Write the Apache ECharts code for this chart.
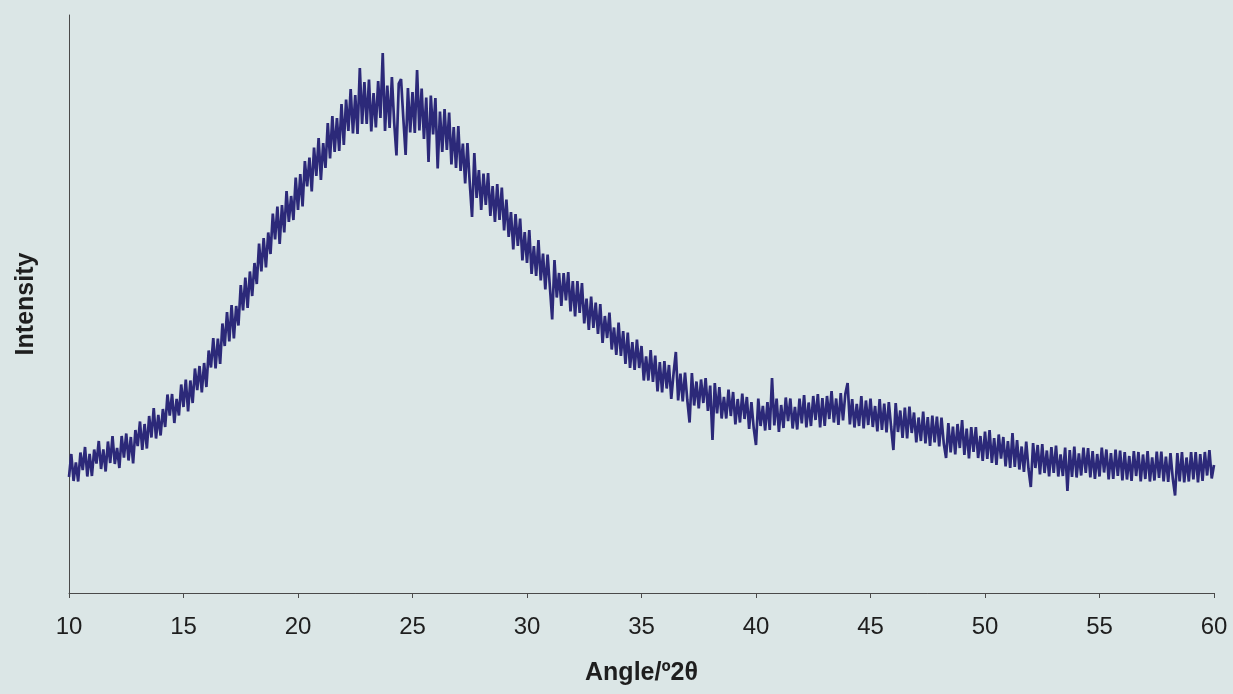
<!DOCTYPE html>
<html>
<head>
<meta charset="utf-8">
<title>XRD pattern</title>
<script src="https://cdn.jsdelivr.net/npm/echarts@6/dist/echarts.min.js"></script>
<style>
  html, body { margin: 0; padding: 0; background: #dbe6e6; }
  #chart { width: 1233px; height: 694px; }
</style>
</head>
<body>
<div id="chart"></div>
<script>
// Scan grid: 10–60 °2θ in 0.1° steps
const ANGLE_START = 10;
const ANGLE_STEP = 0.1;

// Measured intensity (arbitrary units), one value per step
const intensity = [
  232, 278, 224, 261, 223,  281, 246, 292, 233, 278,
  234, 287, 259, 304, 248,  287, 243, 303, 260, 314,
  258, 290, 250, 314, 271,  319, 265, 312, 259, 326,
  294, 343, 286, 338, 289,  354, 311, 370, 309, 356,
  315, 368, 332, 397, 355,  398, 340, 388, 355, 417,
  372, 427, 363, 425, 380,  449, 406, 454, 401, 460,
  412, 485, 451, 510, 449,  509, 458, 539, 494, 562,
  503, 576, 509, 574, 535,  616, 565, 631, 570, 643,
  594, 660, 618, 699, 643,  710, 651, 721, 678, 759,
  707, 773, 698, 776, 721,  804, 742, 794, 746, 831,
  766, 838, 773, 864, 813,  871, 803, 891, 834, 910,
  826, 900, 850, 940, 869,  954, 882, 950, 884, 978,
  896, 987, 924, 1008, 919,  996, 918, 1050, 938, 1022,
  938, 1027, 923, 1000, 931,  1024, 950, 1080, 924, 1015,
  930, 1032, 941, 875, 1019,  1028, 949, 876, 1010, 921,
  1002, 920, 1046, 925, 1009,  908, 991, 862, 995, 917,
  990, 849, 963, 882, 968,  886, 961, 857, 932, 850,
  934, 844, 899, 819, 900,  820, 752, 880, 790, 846,
  766, 839, 776, 840, 754,  814, 742, 818, 746, 811,
  725, 787, 712, 762, 687,  758, 694, 749, 665, 722,
  660, 726, 638, 694, 634,  706, 625, 679, 607, 677,
  612, 547, 666, 591, 640,  574, 640, 585, 642, 563,
  624, 553, 624, 560, 620,  539, 589, 526, 593, 530,
  581, 518, 578, 500, 554,  510, 561, 487, 531, 476,
  541, 474, 524, 458, 521,  450, 502, 446, 507, 450,
  494, 425, 473, 425, 486,  422, 475, 403, 462, 401,
  464, 409, 456, 388, 439,  482, 385, 439, 383, 441,
  386, 341, 440, 375, 423,  369, 427, 380, 430, 364,
  415, 306, 420, 359, 412,  349, 392, 349, 407, 354,
  402, 337, 388, 341, 399,  348, 392, 328, 382, 330,
  296, 389, 334, 374, 325,  382, 326, 430, 335, 389,
  322, 376, 330, 391, 344,  389, 329, 372, 327, 389,
  339, 396, 331, 381, 334,  394, 346, 398, 331, 390,
  334, 394, 348, 404, 341,  389, 336, 400, 345, 398,
  420, 337, 388, 331, 378,  334, 394, 329, 385, 336,
  389, 332, 374, 323, 388,  326, 379, 321, 382, 332,
  286, 380, 322, 365, 310,  371, 309, 373, 320, 361,
  301, 351, 304, 363, 299,  352, 294, 355, 301, 353,
  293, 351, 299, 270, 340,  281, 333, 277, 338, 290,
  346, 276, 329, 269, 332,  282, 332, 270, 314, 264,
  323, 268, 326, 260, 310,  256, 317, 269, 312, 253,
  304, 250, 320, 252, 306,  247, 293, 242, 303, 248,
  212, 300, 250, 296, 237,  298, 240, 285, 233, 292,
  240, 295, 233, 277, 234,  291, 204, 286, 232, 293,
  231, 279, 235, 291, 240,  290, 231, 284, 228, 278,
  233, 291, 241, 287, 227,  280, 228, 287, 234, 285,
  225, 282, 227, 274, 224,  284, 234, 282, 223, 277,
  228, 284, 223, 271, 225,  283, 230, 283, 223, 273,
  222, 280, 229, 195, 280,  223, 282, 221, 271, 223,
  282, 227, 282, 221, 278,  224, 282, 235, 286, 229,
  256
];

// Angle axis tick labels
const angleTicks = [10, 15, 20, 25, 30, 35, 40, 45, 50, 55, 60];

const points = intensity.map((v, i) => [
  +(ANGLE_START + i * ANGLE_STEP).toFixed(2), v
]);

const chart = echarts.init(document.getElementById('chart'), null, { renderer: 'canvas' });

chart.setOption({
  backgroundColor: '#dbe6e6',
  animation: false,
  grid: { left: 69, right: 19, top: 15, bottom: 101, containLabel: false },
  xAxis: {
    type: 'value',
    min: angleTicks[0],
    max: angleTicks[angleTicks.length - 1],
    interval: 5,
    name: 'Angle/º2θ',
    nameLocation: 'middle',
    nameGap: 68,
    nameTextStyle: {
      fontFamily: 'Liberation Sans, Arial, sans-serif',
      fontWeight: 'bold', fontSize: 25, color: '#1e1e1e'
    },
    axisLine: { show: true, onZero: false, lineStyle: { color: '#4a4a4a', width: 1 } },
    axisTick: { show: true, inside: false, length: 5, lineStyle: { color: '#4a4a4a' } },
    axisLabel: {
      margin: 22,
      fontFamily: 'Liberation Sans, Arial, sans-serif',
      fontSize: 24, color: '#1e1e1e'
    },
    splitLine: { show: false }
  },
  yAxis: {
    type: 'value',
    min: 0,
    max: 1156,
    name: 'Intensity',
    nameLocation: 'middle',
    nameGap: 30,
    nameTextStyle: {
      fontFamily: 'Liberation Sans, Arial, sans-serif',
      fontWeight: 'bold', fontSize: 25, color: '#1e1e1e'
    },
    axisLine: { show: true, lineStyle: { color: '#4a4a4a', width: 1 } },
    axisTick: { show: false },
    axisLabel: { show: false },
    splitLine: { show: false }
  },
  series: [{
    type: 'line',
    data: points,
    showSymbol: false,
    lineStyle: { color: '#2c2979', width: 2.7 },
    emphasis: { disabled: true }
  }]
});
</script>
</body>
</html>
